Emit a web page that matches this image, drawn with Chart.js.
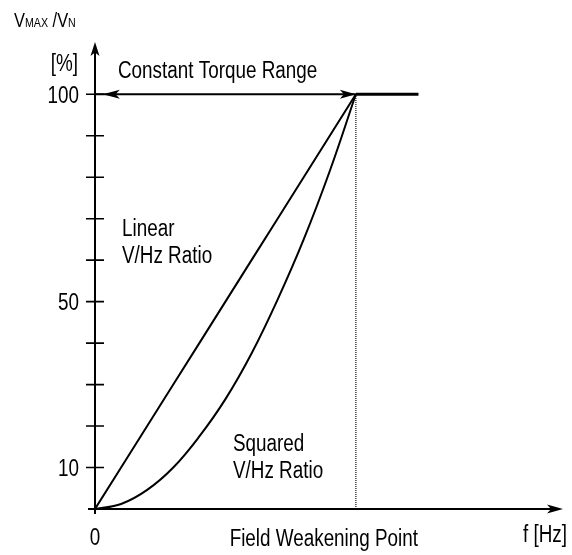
<!DOCTYPE html>
<html lang="en">
<head>
  <meta charset="UTF-8" />
  <title>V/Hz ratio</title>
  <script src="https://cdn.jsdelivr.net/npm/chart.js"></script>
  <style>
    html, body { margin: 0; padding: 0; background: #fff; }
    canvas { display: block; }
  </style>
</head>
<body>
  <canvas id="vhz" width="572" height="555"></canvas>

  <script>
    // frequency in % of field weakening point, voltage in % of V_N
    const freq = [0, 10, 20, 30, 40, 50, 60, 70, 80, 90, 100];
    const linearV = [0, 10, 20, 30, 40, 50, 60, 70, 80, 90, 100];
    const squaredV = [0, 1.2, 4.6, 10, 17.5, 26.5, 37.5, 50.5, 65, 81.5, 100];
    const plateauFreq = [100, 124];
    const plateauV = [100, 100];
    const yTicks = [10, 20, 30, 40, 50, 60, 70, 80, 90, 100];
    const yLabels = [100, 50, 10];
    const xLabels = [0];

    // narrow Helvetica look: Arial metrics squeezed horizontally
    const FONT = '"Liberation Sans", Arial, sans-serif';
    const SQUEEZE = 0.82;
    const pts = (xs, ys) => xs.map((x, i) => ({ x: x, y: ys[i] }));

    function text(ctx, t, x, y, align, size) {
      ctx.save();
      ctx.font = size + 'px ' + FONT;
      ctx.textAlign = align;
      ctx.textBaseline = 'alphabetic';
      ctx.scale(SQUEEZE, 1);
      ctx.fillText(t, x / SQUEEZE, y);
      const w = ctx.measureText(t).width * SQUEEZE;
      ctx.restore();
      return w;
    }

    function arrowHead(ctx, tx, ty, dir, len, half) {
      // dir: unit vector pointing towards the tip
      const [dx, dy] = dir;
      const px = -dy, py = dx;
      ctx.beginPath();
      ctx.moveTo(tx, ty);
      ctx.lineTo(tx - dx * len + px * half, ty - dy * len + py * half);
      ctx.lineTo(tx - dx * len * 0.75, ty - dy * len * 0.75);
      ctx.lineTo(tx - dx * len - px * half, ty - dy * len - py * half);
      ctx.closePath();
      ctx.fill();
    }

    const axesPlugin = {
      id: 'axesPlugin',
      afterDatasetsDraw(chart) {
        const { ctx, chartArea } = chart;
        const x = chart.scales.x, y = chart.scales.y;
        const x0 = x.getPixelForValue(0), y0 = y.getPixelForValue(0);
        ctx.save();
        ctx.strokeStyle = '#000';
        ctx.fillStyle = '#000';

        // axes
        ctx.lineWidth = 2;
        ctx.beginPath();
        ctx.moveTo(x0, y0 + 5);
        ctx.lineTo(x0, chartArea.top + 8);
        ctx.moveTo(x0 - 7, y0);
        ctx.lineTo(chartArea.right - 8, y0);
        ctx.stroke();
        arrowHead(ctx, x0, chartArea.top, [0, -1], 14, 4.5);
        arrowHead(ctx, chartArea.right, y0, [1, 0], 16, 4.5);

        // tick marks crossing the y axis
        ctx.lineWidth = 1.6;
        ctx.beginPath();
        yTicks.forEach(v => {
          const py = y.getPixelForValue(v);
          ctx.moveTo(x0 - 9, py);
          ctx.lineTo(x0 + 9, py);
        });
        ctx.stroke();

        // constant torque range arrow heads
        const yTop = y.getPixelForValue(100);
        arrowHead(ctx, x.getPixelForValue(3), yTop, [-1, 0], 17, 4.5);
        arrowHead(ctx, x.getPixelForValue(100), yTop, [1, 0], 16, 4.5);

        // texts
        yLabels.forEach(v => text(ctx, String(v), x0 - 16, y.getPixelForValue(v) + 8.5, 'right', 23));
        text(ctx, '[%]', x0 - 17, 71, 'right', 23);
        xLabels.forEach(v => text(ctx, String(v), x.getPixelForValue(v), 545, 'center', 23));
        text(ctx, 'Field Weakening Point', 418, 546, 'right', 23);
        text(ctx, 'f [Hz]', 523, 542, 'left', 23);
        text(ctx, 'Constant Torque Range', 118, 78, 'left', 23);
        text(ctx, 'Linear', 122, 236, 'left', 23);
        text(ctx, 'V/Hz Ratio', 122, 263, 'left', 23);
        text(ctx, 'Squared', 233, 451, 'left', 23);
        text(ctx, 'V/Hz Ratio', 233, 478, 'left', 23);

        // V_MAX / V_N
        let cx = 14;
        [['V', 20], ['MAX', 13], [' /', 20], ['V', 20], ['N', 13]].forEach(([t, s]) => {
          cx += text(ctx, t, cx, 27, 'left', s);
        });

        ctx.restore();
      }
    };

    new Chart(document.getElementById('vhz'), {
      type: 'scatter',
      data: {
        datasets: [
          { label: 'Linear V/Hz Ratio', data: pts(freq, linearV), showLine: true,
            borderColor: '#000', borderWidth: 2, pointRadius: 0 },
          { label: 'Squared V/Hz Ratio', data: pts(freq, squaredV), showLine: true,
            borderColor: '#000', borderWidth: 2, pointRadius: 0, tension: 0.4 },
          { label: 'Above field weakening', data: pts(plateauFreq, plateauV), showLine: true,
            borderColor: '#000', borderWidth: 2.8, pointRadius: 0 },
          { label: 'Constant Torque Range', data: pts([0, 100], [100, 100]), showLine: true,
            borderColor: '#000', borderWidth: 1.8, pointRadius: 0 },
          { label: 'Field Weakening Point', data: pts([100, 100], [0, 100]), showLine: true,
            borderColor: '#222', borderWidth: 1.3, borderDash: [1, 1], pointRadius: 0 }
        ]
      },
      options: {
        responsive: false,
        animation: false,
        events: [],
        layout: { padding: { left: 95, right: 9, top: 42, bottom: 46 } },
        plugins: { legend: { display: false }, tooltip: { enabled: false } },
        scales: {
          x: { type: 'linear', min: 0, max: 179.4, display: false },
          y: { type: 'linear', min: 0, max: 112.6, display: false }
        }
      },
      plugins: [axesPlugin]
    });
  </script>
</body>
</html>
